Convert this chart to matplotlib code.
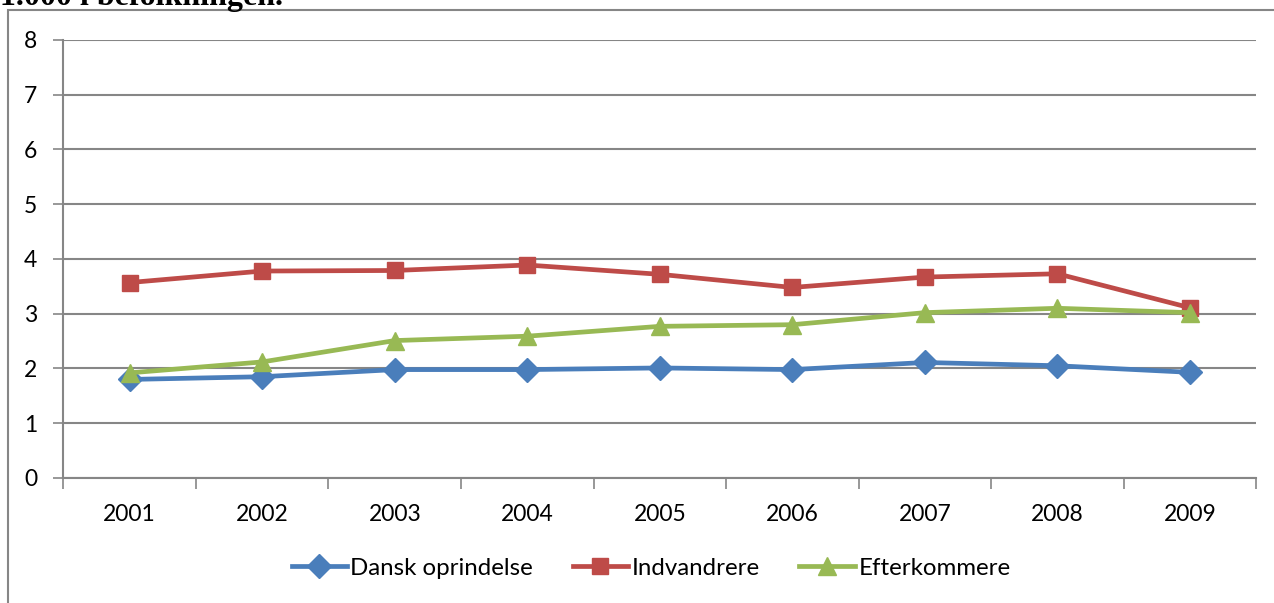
import matplotlib.pyplot as plt
from matplotlib.patches import Rectangle
from matplotlib.ticker import FixedLocator

years = ["2001", "2002", "2003", "2004", "2005", "2006", "2007", "2008", "2009"]
dansk = [1.80, 1.85, 1.98, 1.98, 2.01, 1.98, 2.11, 2.05, 1.93]
indvandrere = [3.57, 3.78, 3.79, 3.89, 3.72, 3.48, 3.67, 3.73, 3.11]
efterkommere = [1.92, 2.12, 2.51, 2.59, 2.77, 2.80, 3.02, 3.10, 3.02]

labels = ["Dansk oprindelse", "Indvandrere", "Efterkommere"]
BLUE = "#4A7EBB"
RED = "#BE4B48"
GREEN = "#98B954"
GRID = "#868686"

plt.rcParams["font.family"] = ["Lato", "DejaVu Sans"]

fig = plt.figure(figsize=(12.74, 6.03), dpi=100)
ax = fig.add_axes([0.0498, 0.2073, 0.9362, 0.7264])

x = list(range(len(years)))
ax.plot(x, dansk, color=BLUE, lw=3.4, marker="D", ms=12, label=labels[0])
ax.plot(x, indvandrere, color=RED, lw=3.4, marker="s", ms=12, label=labels[1])
ax.plot(x, efterkommere, color=GREEN, lw=3.4, marker="^", ms=13, label=labels[2])

ax.set_xlim(-0.5, len(years) - 0.5)
ax.set_ylim(0, 8)
ax.set_yticks(range(0, 9))
ax.set_xticks(x)
ax.set_xticklabels(years)
ax.xaxis.set_minor_locator(FixedLocator([i - 0.5 for i in range(len(years) + 1)]))
ax.tick_params(axis="x", which="major", length=0, labelsize=16.5, pad=19)
ax.tick_params(axis="x", which="minor", length=8, width=1.2, color=GRID)
ax.tick_params(axis="y", length=7, width=1.2, color=GRID, labelsize=16.5, pad=12)
ax.yaxis.grid(True, color=GRID, lw=1.5)
ax.set_axisbelow(True)
for s in ["top", "right"]:
    ax.spines[s].set_visible(False)
for s in ["left", "bottom"]:
    ax.spines[s].set_color(GRID)
    ax.spines[s].set_linewidth(1.5)

fig.legend(loc="center", bbox_to_anchor=(0.511, 0.058), ncol=3, frameon=False,
           fontsize=17.3, handlelength=2.3, columnspacing=1.65, handletextpad=0.15)

fig.patches.append(Rectangle((0.0063, -0.1), 1.1, 1.083, transform=fig.transFigure,
                             fill=False, edgecolor=GRID, lw=1.5))
fig.text(0.0, 0.9925, "1.000 i befolkningen.", fontsize=23, fontweight="bold",
         family="Liberation Serif", va="baseline", ha="left")

fig.savefig("out.png", dpi=100)
